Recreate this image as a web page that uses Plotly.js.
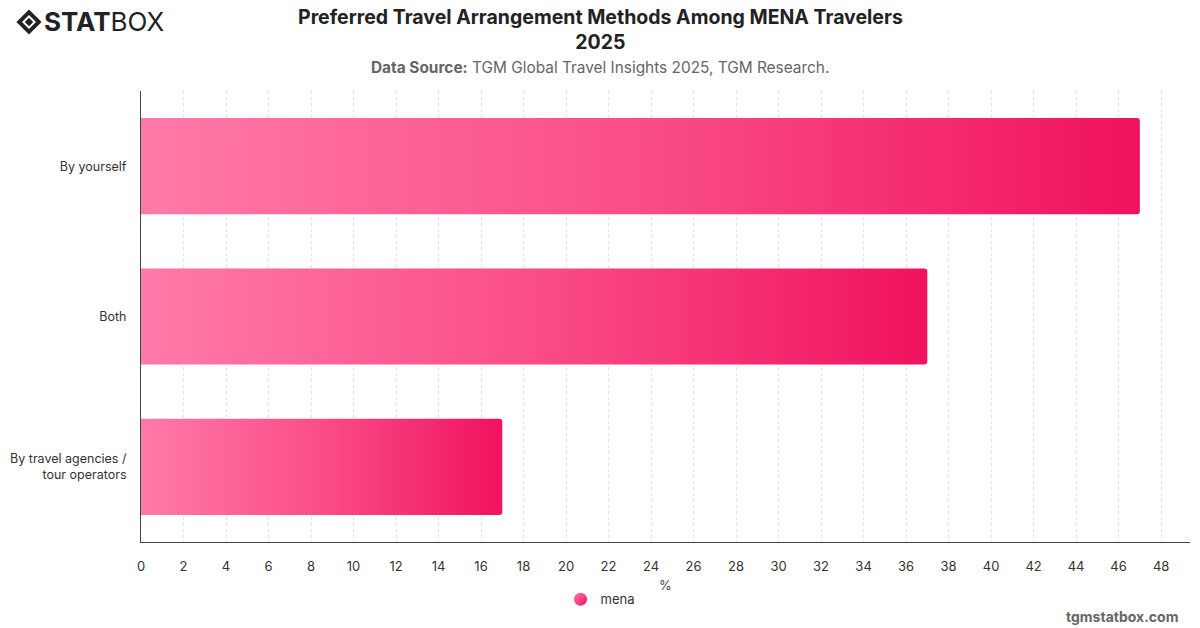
<!DOCTYPE html>
<html>
<head>
<meta charset="utf-8">
<script src="https://cdn.plot.ly/plotly-3.0.1.min.js"></script>
<style>
html,body{margin:0;padding:0;background:#fff;}
#chart{width:1200px;height:628px;}
</style>
</head>
<body>
<div id="chart"></div>
<script>
const categories = ["By yourself", "Both", "By travel agencies /<br>tour operators"];
const values = [47, 37, 17];
const seriesName = "mena";
const xTicks = [0,2,4,6,8,10,12,14,16,18,20,22,24,26,28,30,32,34,36,38,40,42,44,46,48];
const xAxisTitle = "%";

const FONT = "Inter, 'Noto Sans', Roboto, sans-serif";

// plot area in pixels (for converting paper coordinates)
const PL = 141, PR = 1190, PT = 91, PB = 542;
const px = x => (x - PL) / (PR - PL);
const py = y => (PB - y) / (PB - PT);

const logoSvg = '<svg xmlns="http://www.w3.org/2000/svg" width="40" height="40" viewBox="0 0 40 40">' +
  '<path d="M20 2 L38 20 L20 38 L2 20 Z" fill="#222"/>' +
  '<path d="M20 10 L30 20 L20 30 L10 20 Z" fill="#fff"/>' +
  '<path d="M20 14 L26 20 L20 26 L14 20 Z" fill="#222"/>' +
  '</svg>';
const logoUri = 'data:image/svg+xml;base64,' + btoa(logoSvg);

const traces = [
  {
    type: 'bar',
    orientation: 'h',
    y: categories,
    x: values,
    name: seriesName,
    width: 0.64,
    marker: {color: '#f5437f', line: {width: 0}},
    showlegend: false,
    hoverinfo: 'x+y'
  },
  {
    type: 'scatter',
    mode: 'markers',
    x: [null],
    y: [null],
    name: seriesName,
    marker: {symbol: 'circle', size: 13, color: '#f53d7c'},
    showlegend: true
  }
];

const layout = {
  width: 1200,
  height: 628,
  margin: {l: PL, r: 1200 - PR, t: PT, b: 628 - PB},
  paper_bgcolor: '#fff',
  plot_bgcolor: '#fff',
  font: {family: FONT, size: 13, color: '#333'},
  barcornerradius: 3,
  xaxis: {
    range: [0, 49.36],
    tickvals: xTicks,
    ticktext: xTicks.map(String),
    showgrid: true,
    gridcolor: '#e2e2e2',
    griddash: 'dot',
    gridwidth: 1,
    zeroline: false,
    showline: true,
    linecolor: '#444',
    linewidth: 1,
    ticks: '',
    ticklen: 0,
    ticklabelstandoff: 12,
    tickfont: {size: 13, color: '#333'},
    fixedrange: true
  },
  yaxis: {
    autorange: 'reversed',
    showgrid: false,
    zeroline: false,
    showline: true,
    linecolor: '#444',
    linewidth: 1,
    ticks: '',
    ticklabelstandoff: 11,
    tickfont: {size: 12.5, color: '#333'},
    fixedrange: true
  },
  showlegend: true,
  legend: {
    orientation: 'h',
    x: 0.5, xanchor: 'center', xref: 'container',
    y: 0.022, yanchor: 'bottom', yref: 'container',
    font: {size: 13, color: '#333'},
    itemwidth: 30
  },
  annotations: [
    {
      text: '<b>Preferred Travel Arrangement Methods Among MENA Travelers<br>2025</b>',
      xref: 'paper', yref: 'paper',
      x: px(600), xanchor: 'center',
      y: py(29), yanchor: 'middle',
      showarrow: false,
      align: 'center',
      font: {family: FONT, size: 19.5, color: '#222'}
    },
    {
      text: '<b>Data Source:</b> TGM Global Travel Insights 2025, TGM Research.',
      xref: 'paper', yref: 'paper',
      x: px(600), xanchor: 'center',
      y: py(68), yanchor: 'middle',
      showarrow: false,
      font: {family: FONT, size: 15.4, color: '#666'}
    },
    {
      text: xAxisTitle,
      xref: 'paper', yref: 'paper',
      x: px(665), xanchor: 'center',
      y: py(585), yanchor: 'middle',
      showarrow: false,
      font: {family: FONT, size: 13, color: '#444'}
    },
    {
      text: '<b>STAT</b>BOX',
      xref: 'paper', yref: 'paper',
      x: px(42), xanchor: 'left',
      y: py(22), yanchor: 'middle',
      showarrow: false,
      font: {family: FONT, size: 26, color: '#222'}
    },
    {
      text: '<b>tgmstatbox.com</b>',
      xref: 'paper', yref: 'paper',
      x: px(1180), xanchor: 'right',
      y: py(616), yanchor: 'middle',
      showarrow: false,
      font: {family: FONT, size: 14, color: '#666'}
    }
  ],
  images: [
    {
      source: logoUri,
      xref: 'paper', yref: 'paper',
      x: px(15), y: py(8),
      sizex: 28 / (PR - PL), sizey: 28 / (PB - PT),
      xanchor: 'left', yanchor: 'top',
      sizing: 'contain',
      layer: 'above'
    }
  ]
};

function applyGradient(gd) {
  const svg = gd.querySelector('svg.main-svg');
  if (!svg) return;
  const ns = 'http://www.w3.org/2000/svg';
  let defs = svg.querySelector('defs');
  if (!defs) { defs = document.createElementNS(ns, 'defs'); svg.insertBefore(defs, svg.firstChild); }
  if (!svg.querySelector('#barGrad')) {
    const lg = document.createElementNS(ns, 'linearGradient');
    lg.setAttribute('id', 'barGrad');
    lg.setAttribute('x1', '0'); lg.setAttribute('y1', '0');
    lg.setAttribute('x2', '1'); lg.setAttribute('y2', '0');
    [['0%', '#ff7aa8'], ['50%', '#fa4d88'], ['100%', '#f0125f']].forEach(([o, c]) => {
      const s = document.createElementNS(ns, 'stop');
      s.setAttribute('offset', o); s.setAttribute('stop-color', c);
      lg.appendChild(s);
    });
    defs.appendChild(lg);
  }
  gd.querySelectorAll('.barlayer .point path').forEach(p => {
    p.style.fill = 'url(#barGrad)';
  });
  if (!svg.querySelector('#legGrad')) {
    const lg2 = document.createElementNS(ns, 'linearGradient');
    lg2.setAttribute('id', 'legGrad');
    lg2.setAttribute('x1', '0'); lg2.setAttribute('y1', '0');
    lg2.setAttribute('x2', '1'); lg2.setAttribute('y2', '1');
    [['0%', '#ff7aa8'], ['100%', '#f0125f']].forEach(([o, c]) => {
      const s = document.createElementNS(ns, 'stop');
      s.setAttribute('offset', o); s.setAttribute('stop-color', c);
      lg2.appendChild(s);
    });
    defs.appendChild(lg2);
  }
  gd.querySelectorAll('.legend .scatterpts').forEach(p => { p.style.fill = 'url(#legGrad)'; });
}

Plotly.newPlot('chart', traces, layout, {displayModeBar: false, staticPlot: true}).then(gd => {
  applyGradient(gd);
});
</script>
</body>
</html>
